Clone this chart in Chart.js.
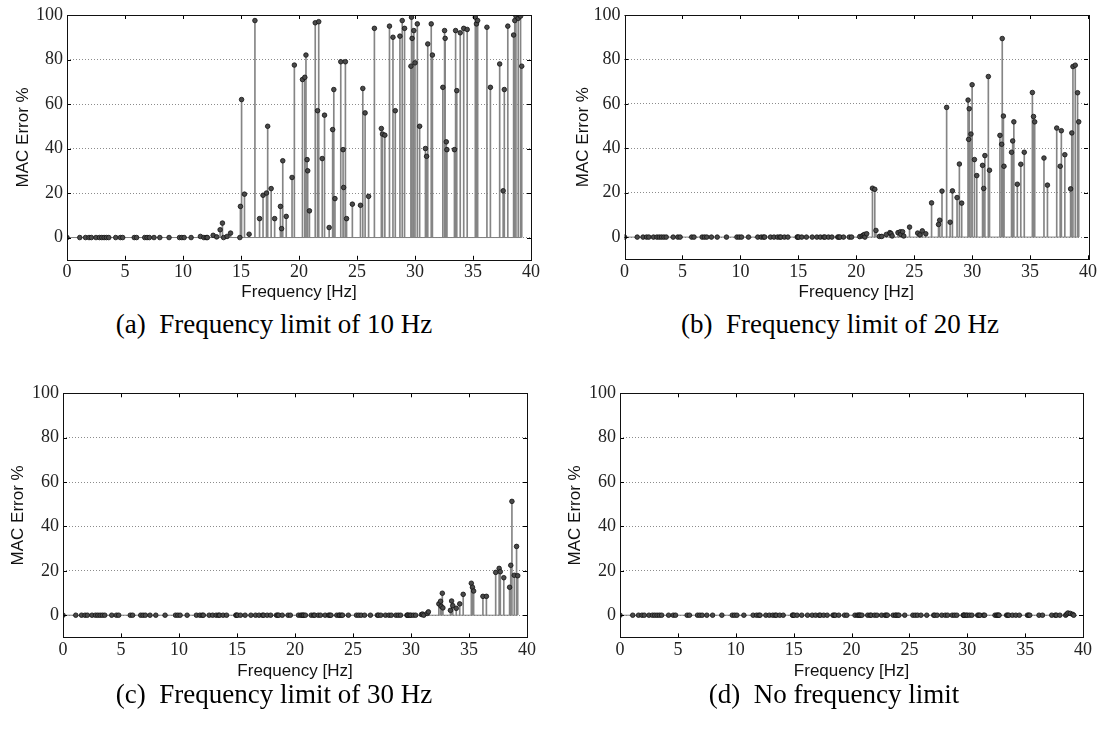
<!DOCTYPE html>
<html><head><meta charset="utf-8">
<script src="https://cdn.jsdelivr.net/npm/chart.js@4/dist/chart.umd.min.js"></script>
<style>
body{margin:0;background:#fff;width:1099px;height:731px;position:relative;overflow:hidden}
canvas{position:absolute}
.cap{position:absolute;font-family:"Liberation Serif","Times New Roman",serif;font-size:27px;line-height:30px;color:#000;white-space:nowrap;transform:translateX(-50%)}
</style></head><body>
<script>
// Natural frequencies of the identified modes [Hz]
const FREQ = [
 0, 1.1, 1.6, 1.9, 2.1, 2.5, 2.8, 3.0, 3.2, 3.4, 3.6, 4.2, 4.6, 4.8, 5.8, 6.0, 6.7, 6.9, 7.1, 7.5, 8.0, 8.8, 9.7, 9.9, 10.1, 10.7,
 11.5, 11.8, 12.0, 12.1, 12.6, 12.9, 13.2, 13.4, 13.5, 13.8, 14.1, 14.9, 14.95, 15.05, 15.3, 15.7, 16.2, 16.6, 16.9, 17.2, 17.3, 17.6, 17.9, 18.4, 18.5, 18.6, 18.9, 19.4, 19.6,
 20.3, 20.5, 20.6, 20.7, 20.75, 20.9, 21.4, 21.6, 21.7, 22.0, 22.2, 22.6, 22.9, 23.0, 23.1, 23.6, 23.8, 23.85, 24.0, 24.1, 24.6, 25.3, 25.5, 25.7, 26.0, 26.5,
 27.1, 27.2, 27.4, 27.8, 28.1, 28.3, 28.7, 28.9, 29.1, 29.65, 29.7, 29.75, 29.9, 30.0, 30.2, 30.4, 30.9, 31.0, 31.1, 31.4, 31.5,
 32.4, 32.55, 32.6, 32.7, 32.75, 33.4, 33.5, 33.6, 33.9, 34.2, 34.5, 35.2, 35.3, 35.4, 36.2, 36.5, 37.3, 37.6, 37.7, 38.0, 38.5, 38.6, 38.7, 38.9, 39.1, 39.2
];
// MAC error [%] per mode, frequency limit of 10 Hz
const MAC_A = [
 0,0,0,0,0,0,0,0,0,0,0,0,0,0,0,0,0,0,0,0,0,0,0,0,0,0,
 0.5,0,0,0,1,0.3,3.5,6.5,0,0.5,2,0,14,62,19.5,1.5,97.5,8.5,19,20,50,22,8.5,14,4,34.5,9.5,27,77.5,
 71,72,82,35,30,12,96.5,57,97,35.5,55,4.5,48.5,66.5,17.5,79,39.5,22.5,79,8.5,15,14.5,67,56,18.5,94,
 49,46.5,46,95,90,57,90.5,97.5,94,77,99,89.5,93,78.5,96,50,40,36.5,87,96,82,
 67.5,93,89.5,43,39.5,39.5,93,66,92,94,93.5,99,96,97.5,94.5,67.5,78,21,66.5,95,91,97.5,99.5,98.5,99.5,77
];
// frequency limit of 20 Hz
const MAC_B = [
 0,0,0,0,0,0,0,0,0,0,0,0,0,0,0,0,0,0,0,0,0,0,0,0,0,0,
 0,0,0,0,0,0,0,0,0,0,0,0,0,0,0,0,0,0,0,0,0,0,0,0,0,0,0,0,0,
 0.2,0.5,0.8,1.2,0,1.5,22,21.5,3,0.3,0.3,1.2,2,1.6,0.5,2,2.4,1.2,2.4,0.5,4.5,1.8,1,2.8,1.5,15.4,
 5.7,7.6,20.7,58.4,6.7,20.8,17.8,32.9,15.3,61.7,44,57.8,46.4,68.6,34.9,27.7,32.3,21.9,36.7,72.3,30.1,
 45.8,41.8,89.4,54.5,31.9,38.2,43.3,51.9,23.8,32.8,38.2,65.1,54.3,51.9,35.6,23.4,49.1,31.9,47.9,37.1,21.7,46.9,76.8,77.4,65,51.9
];
// frequency limit of 30 Hz
const MAC_C = [
 0,0,0,0,0,0,0,0,0,0,0,0,0,0,0,0,0,0,0,0,0,0,0,0,0,0,
 0,0,0,0,0,0,0,0,0,0,0,0,0,0,0,0,0,0,0,0,0,0,0,0,0,0,0,0,0,
 0,0,0,0,0,0,0,0,0,0,0,0,0,0,0,0,0,0,0,0,0,0,0,0,0,0,
 0,0,0,0,0,0,0,0,0,0,0,0,0,0,0,0,0.3,0.5,0,0.8,1.5,
 5.1,6.3,4,9.9,3.3,2.2,6.4,4.3,3.1,5.1,9.4,14.4,12.6,10.9,8.5,8.5,19.3,21.1,19.6,16.9,12.6,22.5,51.3,18,31,17.8
];
// no frequency limit
const MAC_D = [
 0,0,0,0,0,0,0,0,0,0,0,0,0,0,0,0,0,0,0,0,0,0,0,0,0,0,
 0,0,0,0,0,0,0,0,0,0,0,0,0,0,0,0,0,0,0,0,0,0,0,0,0,0,0,0,0,
 0,0,0,0,0,0,0,0,0,0,0,0,0,0,0,0,0,0,0,0,0,0,0,0,0,0,
 0,0,0,0,0,0,0,0,0,0,0,0,0,0,0,0,0,0,0,0,0,
 0,0,0,0,0,0,0,0,0,0,0,0,0,0,0,0,0,0,0,0,0,0.5,1,0.8,0.4,0
];
const X_TICKS = {min: 0, max: 40, step: 5};
const Y_TICKS = {min: -10, max: 100, step: 20};
const X_TITLE = 'Frequency [Hz]';
const Y_TITLE = 'MAC Error %';
const CAPTIONS = ['(a)\u00a0 Frequency limit of 10 Hz', '(b)\u00a0 Frequency limit of 20 Hz',
                  '(c)\u00a0 Frequency limit of 30 Hz', '(d)\u00a0 No frequency limit'];

// layout (pixels)
const PANELS = [
  {values: MAC_A, L:67,    R:531,    T:15,    B:260,   yTitleX:23.5, xTitleY:293,   capX:274, capY:324},
  {values: MAC_B, L:624.5, R:1087.5, T:15,    B:259.5, yTitleX:583,  xTitleY:293,   capX:840, capY:324},
  {values: MAC_C, L:63,    R:527,    T:393.3, B:637.3, yTitleX:18.5, xTitleY:671.7, capX:274, capY:694},
  {values: MAC_D, L:620,   R:1083,   T:393.3, B:637.3, yTitleX:575,  xTitleY:671.7, capX:834, capY:694},
];

const TITLE_FONT = {family: '"Liberation Sans", Arial, sans-serif', size: 17, lineHeight: 1.2};
const TICK_FONT = {family: '"Liberation Serif", "Times New Roman", serif', size: 18, lineHeight: 1.2};
const LH = TITLE_FONT.size * TITLE_FONT.lineHeight;

const framePlugin = {
  id: 'frame',
  afterDatasetsDraw(chart) {
    const {ctx, chartArea: {left, right, top, bottom}, scales: {x, y}} = chart;
    ctx.save();
    ctx.strokeStyle = '#000';
    ctx.lineWidth = 1;
    ctx.beginPath();
    x.ticks.forEach(t => {
      const px = Math.round(x.getPixelForValue(t.value)) + 0.5;
      ctx.moveTo(px, bottom); ctx.lineTo(px, bottom - 4);
      ctx.moveTo(px, top); ctx.lineTo(px, top + 4);
    });
    y.ticks.forEach(t => {
      const py = Math.round(y.getPixelForValue(t.value)) + 0.5;
      ctx.moveTo(left, py); ctx.lineTo(left + 4, py);
      ctx.moveTo(right, py); ctx.lineTo(right - 4, py);
    });
    ctx.stroke();
    ctx.strokeStyle = '#111';
    ctx.strokeRect(Math.round(left) + 0.5, Math.round(top) + 0.5, Math.round(right - left), Math.round(bottom - top));
    ctx.restore();
  }
};

PANELS.forEach((p, k) => {
  const cl = Math.round(p.yTitleX - LH / 2);
  const ct = Math.floor(p.T - 15);
  const padTop = p.T - ct;
  const padRight = 11;
  const yW = p.L - cl;
  const xH = p.xTitleY + LH / 2 - p.B;
  const W = Math.round(p.R + padRight - cl);
  const H = Math.round(p.B + xH - ct);
  const cv = document.createElement('canvas');
  cv.width = W; cv.height = H;
  cv.style.left = cl + 'px'; cv.style.top = ct + 'px';
  cv.style.width = W + 'px'; cv.style.height = H + 'px';
  document.body.appendChild(cv);

  const pts = FREQ.map((f, i) => ({x: f, y: p.values[i]}));
  const baseline = [{x: FREQ[0], y: 0}, {x: FREQ[FREQ.length - 1], y: 0}];

  new Chart(cv, {
    type: 'scatter',
    data: {datasets: [
      {type: 'scatter', data: pts, pointRadius: 2.3, pointBackgroundColor: '#4a4a4a',
       pointBorderColor: '#111', pointBorderWidth: 0.8, order: 0},
      {type: 'line', data: baseline, borderColor: '#808080', borderWidth: 1, pointRadius: 0, order: 1},
      {type: 'bar', data: pts, backgroundColor: '#858585', barThickness: 1, borderWidth: 0, order: 2}
    ]},
    options: {
      responsive: false, animation: false, devicePixelRatio: 1,
      layout: {autoPadding: false, padding: {left: 0, top: padTop, right: padRight, bottom: 0}},
      plugins: {legend: {display: false}, tooltip: {enabled: false}},
      scales: {
        x: {
          type: 'linear', min: X_TICKS.min, max: X_TICKS.max, offset: false,
          ticks: {stepSize: X_TICKS.step, padding: 2, color: '#222', font: TICK_FONT, maxRotation: 0, autoSkip: false},
          grid: {display: false, drawTicks: false, offset: false},
          border: {display: false},
          title: {display: true, text: X_TITLE, color: '#111', font: TITLE_FONT, padding: 0},
          afterFit: s => { s.height = xH; }
        },
        y: {
          type: 'linear', min: Y_TICKS.min, max: Y_TICKS.max,
          afterBuildTicks: s => { s.ticks = s.ticks.filter(t => t.value >= 0); },
          ticks: {stepSize: Y_TICKS.step, padding: 4, color: '#222', font: TICK_FONT},
          grid: {color: '#8c8c8c', lineWidth: 1, drawTicks: false},
          border: {display: false, dash: [1, 2]},
          title: {display: true, text: Y_TITLE, color: '#111', font: TITLE_FONT, padding: 0},
          afterFit: s => { s.width = yW; }
        }
      }
    },
    plugins: [framePlugin]
  });

  const cap = document.createElement('div');
  cap.className = 'cap';
  cap.textContent = CAPTIONS[k];
  cap.style.left = p.capX + 'px';
  cap.style.top = (p.capY - 15) + 'px';
  document.body.appendChild(cap);
});
</script>
</body></html>
